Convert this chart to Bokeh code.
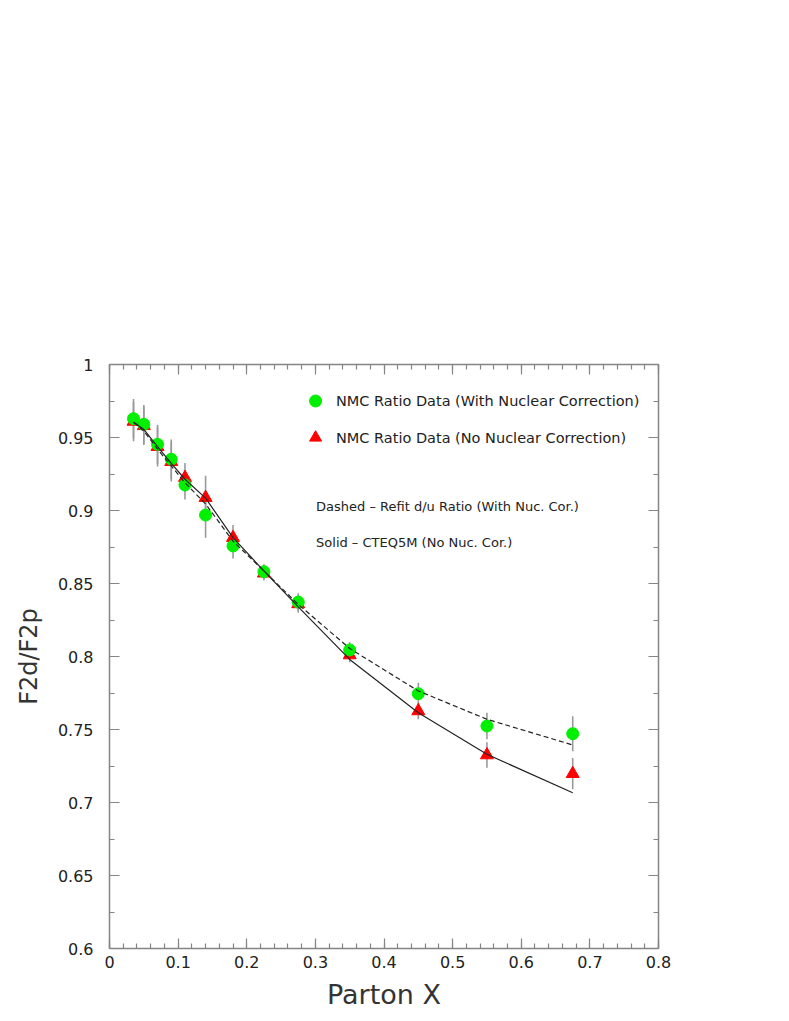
from bokeh.plotting import figure
from bokeh.models import ColumnDataSource, LinearAxis, FixedTicker, Label, Range1d
from bokeh.embed import file_html
from bokeh.resources import INLINE

# ---- data ----
x_vals = [0.035, 0.05, 0.07, 0.09, 0.11, 0.14, 0.18, 0.225, 0.275, 0.35, 0.45, 0.55, 0.675]
ratio_nuc = [0.9629, 0.959, 0.9453, 0.9351, 0.9175, 0.8969, 0.8757, 0.8581, 0.8373, 0.8045, 0.7745, 0.7524, 0.7471]
err_nuc = [0.0135, 0.0132, 0.0135, 0.0135, 0.010, 0.0155, 0.0086, 0.005, 0.006, 0.0053, 0.0075, 0.0091, 0.012]
ratio_nonuc = [0.961, 0.958, 0.9437, 0.9334, 0.9225, 0.9088, 0.8814, 0.857, 0.836, 0.801, 0.7627, 0.7325, 0.7197]
err_nonuc = [0.0135, 0.0132, 0.0135, 0.0135, 0.010, 0.0150, 0.0086, 0.005, 0.006, 0.005, 0.0057, 0.0087, 0.0107]
fit_dashed = [0.9603, 0.9545, 0.942, 0.9305, 0.919, 0.9045, 0.879, 0.8586, 0.8357, 0.8055, 0.7764, 0.757, 0.7394]
cteq_solid = [0.9606, 0.9555, 0.9437, 0.9323, 0.9214, 0.9085, 0.8814, 0.8586, 0.834, 0.798, 0.7615, 0.733, 0.7067]

x_ticks = [0, 0.1, 0.2, 0.3, 0.4, 0.5, 0.6, 0.7, 0.8]
x_tick_labels = ["0", "0.1", "0.2", "0.3", "0.4", "0.5", "0.6", "0.7", "0.8"]
y_ticks = [0.6, 0.65, 0.7, 0.75, 0.8, 0.85, 0.9, 0.95, 1.0]
y_tick_labels = ["0.6", "0.65", "0.7", "0.75", "0.8", "0.85", "0.9", "0.95", "1"]

legend_texts = ["NMC Ratio Data (With Nuclear Correction)",
                "NMC Ratio Data (No Nuclear Correction)"]
note_texts = ["Dashed \u2013 Refit d/u Ratio (With Nuc. Cor.)",
              "Solid \u2013 CTEQ5M (No Nuc. Cor.)"]

FONT = "DejaVu Sans"
AX_COL = "#858585"
GREEN = "#00f000"
RED = "#ff0000"

x_minor = [round(i * 0.02, 3) for i in range(41)]
y_minor = [round(0.6 + i * 0.025, 4) for i in range(17)]

p = figure(
    output_backend="svg", toolbar_location=None,
    x_range=Range1d(0, 0.8), y_range=Range1d(0.6, 1.0),
    frame_width=549, frame_height=584,
    min_border_left=109, min_border_right=130,
    min_border_top=364, min_border_bottom=70,
    x_axis_location=None, y_axis_location=None,
)
p.outline_line_color = None
p.xgrid.visible = False
p.ygrid.visible = False
p.background_fill_color = "white"
p.border_fill_color = "white"


def style_axis(ax, ticks, minor, labels, show):
    ax.ticker = FixedTicker(ticks=ticks, minor_ticks=minor)
    ax.axis_line_color = AX_COL
    ax.axis_line_width = 1.5
    ax.major_tick_line_color = AX_COL
    ax.minor_tick_line_color = AX_COL
    ax.major_tick_line_width = 1.2
    ax.minor_tick_line_width = 1.2
    ax.major_tick_in = 10
    ax.major_tick_out = 0
    ax.minor_tick_in = 5
    ax.minor_tick_out = 0
    ax.major_label_text_font = FONT
    ax.major_label_text_font_size = "16px"
    ax.major_label_text_color = "#222222"
    if show:
        ax.major_label_overrides = {t: l for t, l in zip(ticks, labels)}
    else:
        ax.major_label_overrides = {t: "" for t in ticks}
        ax.major_label_standoff = 0


xb = LinearAxis(axis_label="Parton X")
style_axis(xb, x_ticks, x_minor, x_tick_labels, True)
xb.major_label_standoff = 7
xb.axis_label_standoff = 8
xb.axis_label_text_font = FONT
xb.axis_label_text_font_size = "27px"
xb.axis_label_text_font_style = "normal"
xb.axis_label_text_color = "#333333"
p.add_layout(xb, "below")

yl = LinearAxis(axis_label="F2d/F2p")
style_axis(yl, y_ticks, y_minor, y_tick_labels, True)
yl.major_label_standoff = 16
yl.axis_label_standoff = 12
yl.axis_label_text_font = FONT
yl.axis_label_text_font_size = "24px"
yl.axis_label_text_font_style = "normal"
yl.axis_label_text_color = "#333333"
p.add_layout(yl, "left")

xt = LinearAxis()
style_axis(xt, x_ticks, x_minor, x_tick_labels, False)
p.add_layout(xt, "above")

yr = LinearAxis()
style_axis(yr, y_ticks, y_minor, y_tick_labels, False)
p.add_layout(yr, "right")

src = ColumnDataSource(dict(
    x=x_vals,
    g=ratio_nuc,
    g_lo=[v - e for v, e in zip(ratio_nuc, err_nuc)],
    g_hi=[v + e for v, e in zip(ratio_nuc, err_nuc)],
    r=ratio_nonuc,
    r_lo=[v - e for v, e in zip(ratio_nonuc, err_nonuc)],
    r_hi=[v + e for v, e in zip(ratio_nonuc, err_nonuc)],
    dashed=fit_dashed,
    solid=cteq_solid,
))

# error bars
p.segment(x0="x", y0="r_lo", x1="x", y1="r_hi", source=src, line_color="#9a9a9a", line_width=1.6)
p.segment(x0="x", y0="g_lo", x1="x", y1="g_hi", source=src, line_color="#9a9a9a", line_width=1.6)

# markers
p.scatter(x="x", y="r", source=src, marker="triangle", size=13,
          fill_color=RED, line_color=RED)
p.scatter(x="x", y="g", source=src, marker="circle", size=12,
          fill_color=GREEN, line_color=GREEN)

# curves
p.line(x="x", y="dashed", source=src, line_color="#222222", line_width=1.2, line_dash="5 3")
p.line(x="x", y="solid", source=src, line_color="#222222", line_width=1.2)

# legend keys
key_src = ColumnDataSource(dict(x=[0.3003], y=[0.975]))
key_src2 = ColumnDataSource(dict(x=[0.3003], y=[0.9499]))
p.scatter(x="x", y="y", source=key_src, marker="circle", size=12,
          fill_color=GREEN, line_color=GREEN)
p.scatter(x="x", y="y", source=key_src2, marker="triangle", size=12,
          fill_color=RED, line_color=RED)

for txt, yy in zip(legend_texts, [0.975, 0.9499]):
    p.add_layout(Label(x=0.330, y=yy, text=txt, text_font=FONT, text_font_size="14.5px",
                       text_color="#222222", text_baseline="middle", text_align="left"))
for txt, yy in zip(note_texts, [0.903, 0.8784]):
    p.add_layout(Label(x=0.301, y=yy, text=txt, text_font=FONT, text_font_size="13px",
                       text_color="#222222", text_baseline="middle", text_align="left"))

open("out.html", "w").write(file_html(p, INLINE))
